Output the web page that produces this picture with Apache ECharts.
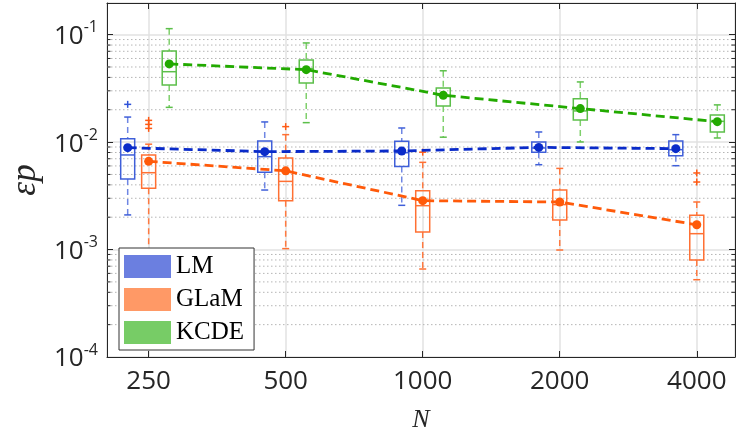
<!DOCTYPE html>
<html>
<head>
<meta charset="utf-8">
<script src="https://cdn.jsdelivr.net/npm/echarts@6/dist/echarts.min.js"></script>
<style>html,body{margin:0;padding:0;background:#fff}#c{width:736px;height:429px}</style>
</head>
<body>
<div id="c"></div>
<script>
// ---- data ----
const categories = ['250', '500', '1000', '2000', '4000'];
const methods = ['LM', 'GLaM', 'KCDE'];
// [low whisker, Q1, median, Q3, high whisker]
const lmStats = [
  [2.10e-3, 4.54e-3, 7.59e-3, 1.076e-2, 1.71e-2],
  [3.58e-3, 5.23e-3, 7.32e-3, 1.024e-2, 1.54e-2],
  [2.58e-3, 5.94e-3, 7.97e-3, 1.016e-2, 1.353e-2],
  [6.16e-3, 8.03e-3, 8.82e-3, 1.003e-2, 1.242e-2],
  [6.03e-3, 7.48e-3, 8.50e-3, 1.024e-2, 1.173e-2]
];
const glamStats = [
  [4.0e-4, 3.71e-3, 5.19e-3, 7.59e-3, 9.56e-3],
  [1.02e-3, 2.84e-3, 4.31e-3, 7.12e-3, 1.173e-2],
  [6.59e-4, 1.457e-3, 2.56e-3, 3.53e-3, 6.48e-3],
  [9.9e-4, 1.884e-3, 2.62e-3, 3.59e-3, 5.69e-3],
  [5.24e-4, 7.99e-4, 1.405e-3, 2.08e-3, 2.77e-3]
];
const kcdeStats = [
  [2.105e-2, 3.40e-2, 4.52e-2, 7.05e-2, 1.137e-1],
  [1.517e-2, 3.55e-2, 4.83e-2, 5.81e-2, 8.37e-2],
  [1.111e-2, 2.17e-2, 2.72e-2, 3.18e-2, 4.61e-2],
  [1.003e-2, 1.607e-2, 1.95e-2, 2.53e-2, 3.63e-2],
  [1.092e-2, 1.243e-2, 1.56e-2, 1.79e-2, 2.22e-2]
];
const lmMean = [8.87e-3, 8.15e-3, 8.27e-3, 8.93e-3, 8.69e-3];
const glamMean = [6.62e-3, 5.40e-3, 2.85e-3, 2.77e-3, 1.70e-3];
const kcdeMean = [5.34e-2, 4.72e-2, 2.73e-2, 2.05e-2, 1.55e-2];
// outliers: [category index, value]
const lmOutliers = [[0, 2.245e-2]];
const glamOutliers = [[0, 1.593e-2], [0, 1.462e-2], [0, 1.342e-2], [1, 1.393e-2], [2, 8.06e-3], [4, 5.16e-3], [4, 4.25e-3]];
const kcdeOutliers = [];
const minorTicks = [
  2e-4, 3e-4, 4e-4, 5e-4, 6e-4, 7e-4, 8e-4, 9e-4,
  2e-3, 3e-3, 4e-3, 5e-3, 6e-3, 7e-3, 8e-3, 9e-3,
  2e-2, 3e-2, 4e-2, 5e-2, 6e-2, 7e-2, 8e-2, 9e-2
];

// ---- style ----
const styles = {
  LM:   { off: -0.153, box: '#3f5fd9', whisk: '#6f86e3', mean: '#0a2bc9', patch: '#6b7fe0', out: '#2f52d8' },
  GLaM: { off: 0.0,    box: '#ff7033', whisk: '#ff7a40', mean: '#ff5a0a', patch: '#ff9966', out: '#ff5a14' },
  KCDE: { off: 0.15,   box: '#5cbf4a', whisk: '#7fd06c', mean: '#22aa00', patch: '#77cc66', out: '#44b030' }
};
const BOXW = 14, CAPW = 7;

function boxRenderer(st) {
  return function (params, api) {
    const x = api.value(0) + st.off;
    const pLow = api.coord([x, api.value(1)]);
    const pQ1 = api.coord([x, api.value(2)]);
    const pMed = api.coord([x, api.value(3)]);
    const pQ3 = api.coord([x, api.value(4)]);
    const pHigh = api.coord([x, api.value(5)]);
    const cx = pLow[0];
    const wStyle = { stroke: st.whisk, lineWidth: 1.5, lineDash: [6, 4] };
    const sStyle = { stroke: st.box, lineWidth: 1.5 };
    return {
      type: 'group',
      children: [
        { type: 'line', shape: { x1: cx, y1: pHigh[1], x2: cx, y2: pQ3[1] }, style: wStyle },
        { type: 'line', shape: { x1: cx, y1: pQ1[1], x2: cx, y2: pLow[1] }, style: wStyle },
        { type: 'line', shape: { x1: cx - CAPW / 2, y1: pHigh[1], x2: cx + CAPW / 2, y2: pHigh[1] }, style: sStyle },
        { type: 'line', shape: { x1: cx - CAPW / 2, y1: pLow[1], x2: cx + CAPW / 2, y2: pLow[1] }, style: sStyle },
        { type: 'rect', shape: { x: cx - BOXW / 2, y: pQ3[1], width: BOXW, height: pQ1[1] - pQ3[1] }, style: { fill: 'none', stroke: st.box, lineWidth: 1.5 } },
        { type: 'line', shape: { x1: cx - BOXW / 2, y1: pMed[1], x2: cx + BOXW / 2, y2: pMed[1] }, style: sStyle }
      ]
    };
  };
}
function outRenderer(st) {
  return function (params, api) {
    const p = api.coord([api.value(0) + st.off, api.value(1)]);
    const h = 3.5;
    const s = { stroke: st.out, lineWidth: 1.5 };
    return {
      type: 'group',
      children: [
        { type: 'line', shape: { x1: p[0] - h, y1: p[1], x2: p[0] + h, y2: p[1] }, style: s },
        { type: 'line', shape: { x1: p[0], y1: p[1] - h, x2: p[0], y2: p[1] + h }, style: s }
      ]
    };
  };
}
function minorRenderer(params, api) {
  const cs = params.coordSys;
  const y = api.coord([0, api.value(1)])[1];
  return {
    type: 'group',
    children: [
      { type: 'line', shape: { x1: cs.x, y1: y, x2: cs.x + cs.width, y2: y }, style: { stroke: '#b5b5b5', lineWidth: 1, lineDash: [1.5, 2.5] } },
      { type: 'line', shape: { x1: cs.x, y1: y, x2: cs.x + 3.5, y2: y }, style: { stroke: '#262626', lineWidth: 1 } },
      { type: 'line', shape: { x1: cs.x + cs.width - 3.5, y1: y, x2: cs.x + cs.width, y2: y }, style: { stroke: '#262626', lineWidth: 1 } }
    ]
  };
}

const statsBy = { LM: lmStats, GLaM: glamStats, KCDE: kcdeStats };
const meanBy = { LM: lmMean, GLaM: glamMean, KCDE: kcdeMean };
const outBy = { LM: lmOutliers, GLaM: glamOutliers, KCDE: kcdeOutliers };

const series = [{
  type: 'custom', name: 'minor', silent: true, z: 1,
  renderItem: minorRenderer,
  data: minorTicks.map(function (v) { return [0, v]; })
}];
methods.forEach(function (m) {
  const st = styles[m];
  series.push({
    type: 'custom', name: m, z: 3, itemStyle: { color: st.patch },
    renderItem: boxRenderer(st),
    data: statsBy[m].map(function (s, i) { return [i].concat(s); })
  });
  series.push({
    type: 'custom', name: m + ' outliers', z: 3,
    renderItem: outRenderer(st),
    data: outBy[m]
  });
});
methods.forEach(function (m) {
  const st = styles[m];
  series.push({
    type: 'line', name: m + ' mean', z: 5,
    data: meanBy[m].map(function (v, i) { return [i + st.off, v]; }),
    symbol: 'circle', symbolSize: 9,
    itemStyle: { color: st.mean },
    lineStyle: { color: st.mean, width: 2.8, type: [9, 5] },
    animation: false
  });
});

const axisCol = '#262626';
const option = {
  animation: false,
  grid: { left: 107, right: 1, top: 3, bottom: 72, containLabel: false, outerBoundsMode: 'none' },
  legend: {
    data: methods, orient: 'vertical', left: 119, top: 248,
    icon: 'rect', itemWidth: 47, itemHeight: 23, itemGap: 8,
    padding: [6, 10, 5, 5],
    backgroundColor: '#fff', borderColor: '#333', borderWidth: 1,
    textStyle: { fontFamily: 'Liberation Serif', fontSize: 25, color: '#000' },
    selectedMode: false
  },
  xAxis: [{
    type: 'value', min: -0.304, max: 4.279, splitNumber: 5,
    axisLine: { show: true, onZero: false, lineStyle: { color: axisCol, width: 1 } },
    axisTick: { show: true, inside: true, length: 6, lineStyle: { color: axisCol } },
    splitLine: { show: true, lineStyle: { color: '#e2e2e2', width: 1.5 } },
    axisLabel: {
      margin: 12, fontFamily: 'Open Sans', fontSize: 26, color: axisCol,
      formatter: function (v) {
        const r = Math.round(v);
        return (Math.abs(v - r) < 1e-6 && categories[r] !== undefined) ? categories[r] : '';
      }
    },
    name: 'N', nameLocation: 'middle', nameGap: 50,
    nameTextStyle: { fontFamily: 'Liberation Serif', fontStyle: 'italic', fontSize: 26, color: axisCol }
  }, {
    type: 'value', min: -0.304, max: 4.279, splitNumber: 5, position: 'top',
    axisLine: { show: true, onZero: false, lineStyle: { color: axisCol, width: 1 } },
    axisTick: { show: true, inside: true, length: 6, lineStyle: { color: axisCol } },
    splitLine: { show: false }, axisLabel: { show: false }
  }],
  yAxis: [{
    type: 'log', logBase: 10, min: 1e-4, max: 0.197,
    axisLine: { show: true, onZero: false, lineStyle: { color: axisCol, width: 1 } },
    axisTick: { show: true, inside: true, length: 6, lineStyle: { color: axisCol } },
    splitLine: { show: true, lineStyle: { color: '#e2e2e2', width: 1.5 } },
    axisLabel: {
      margin: 9, color: axisCol,
      formatter: function (v) {
        const e = Math.log10(v);
        const r = Math.round(e);
        if (Math.abs(e - r) > 1e-6) return '';
        return '{b|10}{s|' + r + '}';
      },
      rich: {
        b: { fontFamily: 'Open Sans', fontSize: 26, lineHeight: 26, padding: [4, 0, 0, 0], color: axisCol },
        s: { fontFamily: 'Open Sans', fontSize: 16, lineHeight: 16, padding: [0, 0, 14, 0], color: axisCol }
      }
    },
    name: 'εp', nameLocation: 'middle', nameGap: 62, nameRotate: 90,
    nameTextStyle: { fontFamily: 'Liberation Serif', fontStyle: 'italic', fontSize: 35, color: axisCol }
  }, {
    type: 'log', logBase: 10, min: 1e-4, max: 0.197, position: 'right',
    axisLine: { show: true, onZero: false, lineStyle: { color: axisCol, width: 1 } },
    axisTick: { show: true, inside: true, length: 6, lineStyle: { color: axisCol } },
    splitLine: { show: false }, axisLabel: { show: false }
  }],
  series: series
};
const chart = echarts.init(document.getElementById('c'), null, { renderer: 'canvas' });
chart.setOption(option);
</script>
</body>
</html>
